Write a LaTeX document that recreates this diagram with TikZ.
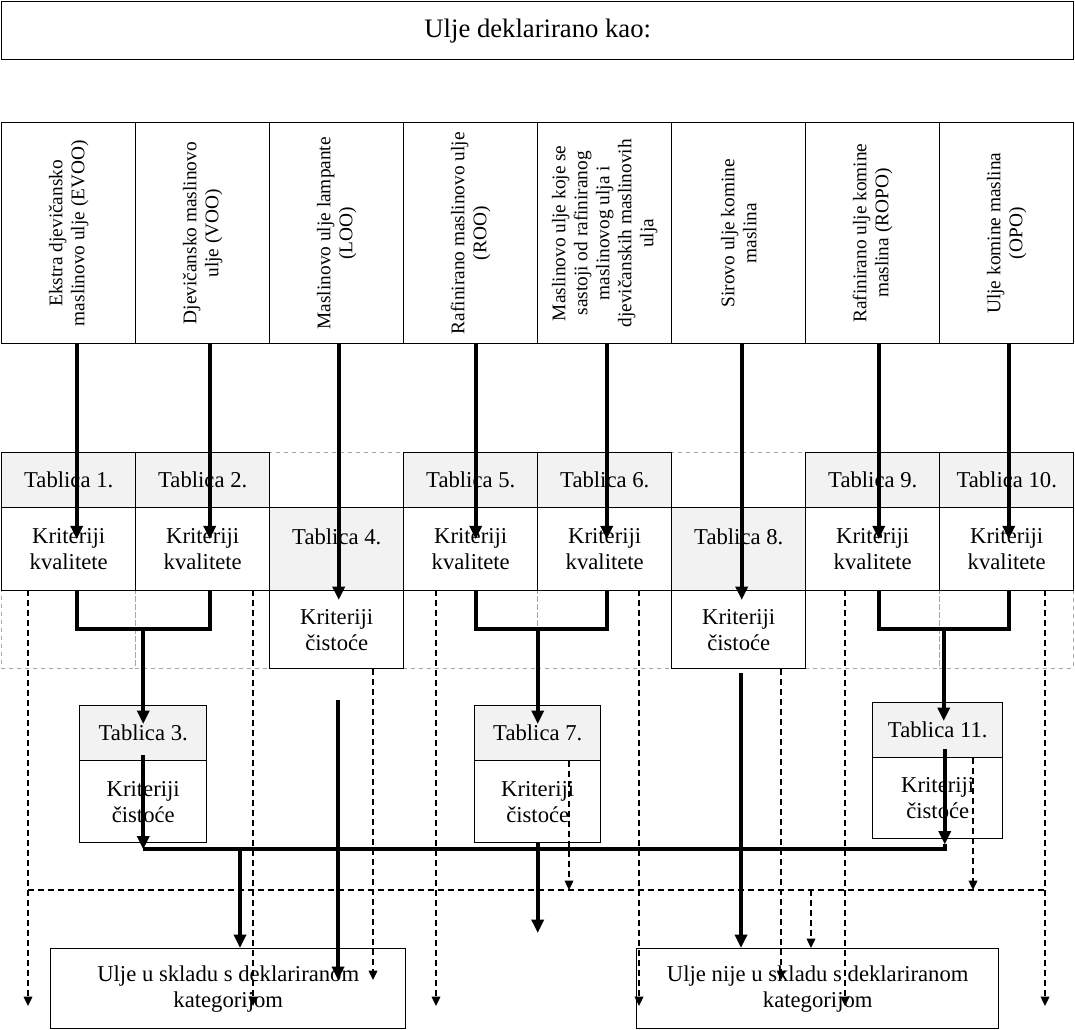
\documentclass[tikz,border=0pt]{standalone}
\usepackage{fontspec}
\setmainfont{Liberation Serif}
\usetikzlibrary{arrows.meta,positioning}
\definecolor{shade}{HTML}{F2F2F2}
\definecolor{rulegray}{HTML}{A6A6A6}

\begin{document}
\begin{tikzpicture}[
  x=0.75pt,y=-0.75pt,
  cell/.style={draw,line width=1.1pt,anchor=north west,inner sep=0pt,align=center,minimum width=100.5pt,font=\fontsize{17}{19.5}\selectfont},
  head/.style={cell,fill=shade,minimum height=41.25pt},
  blank/.style={cell,draw=rulegray,dashed,line width=0.6pt},
  vtext/.style={rotate=90,align=center,inner sep=0pt,font=\fontsize{14.5}{16.5}\selectfont},
  flow/.style={-{Triangle[length=10pt,width=9pt]},line width=3pt},
  bus/.style={line width=3pt},
  pass/.style={-{Triangle[length=7pt,width=6.5pt]},line width=1pt,dash pattern=on 4.5pt off 3pt}
]
\useasboundingbox (0,0) rectangle (1075,1030);

% heading
\node[cell,minimum width=804pt,minimum height=43.5pt,font=\fontsize{20}{24}\selectfont] (decl) at (1,1) {Ulje deklarirano kao:};

% oil categories
\foreach \i/\txt in {1/{Ekstra djevičansko\\maslinovo ulje (EVOO)},
                     2/{Djevičansko maslinovo\\ulje (VOO)},
                     3/{Maslinovo ulje lampante\\(LOO)},
                     4/{Rafinirano maslinovo ulje\\(ROO)},
                     5/{Maslinovo ulje koje se\\sastoji od rafiniranog\\maslinovog ulja i\\djevičanskih maslinovih\\ulja},
                     6/{Sirovo ulje komine\\maslina},
                     7/{Rafinirano ulje komine\\maslina (ROPO)},
                     8/{Ulje komine maslina\\(OPO)}}{
  \node[cell,minimum height=165.75pt] (col\i) at ({1+134*(\i-1)},122) {};
  \node[vtext] (cap\i) at (col\i) {\txt};
}

% table grid: empty cells first
\node[blank,minimum height=41.25pt] (tA3) at (269,452) {};
\node[blank,minimum height=41.25pt] (tA6) at (671,452) {};
\foreach \i in {1,2,4,5,7,8}
  \node[blank,minimum height=58.5pt] (tC\i) at ({1+134*(\i-1)},590) {};

\foreach \i/\n in {1/1,2/2,4/5,5/6,7/9,8/10}{
  \node[head] (tA\i) at ({1+134*(\i-1)},452) {Tablica \n.};
  \node[cell,minimum height=62.25pt] (tB\i) at ({1+134*(\i-1)},507) {Kriteriji\\kvalitete};
}
\node[cell,fill=shade,minimum height=62.25pt] (tB3) at (269,507) {Tablica 4.\\~};
\node[cell,fill=shade,minimum height=62.25pt] (tB6) at (671,507) {Tablica 8.\\~};
\node[cell,minimum height=58.5pt] (tC3) at (269,590) {Kriteriji\\čistoće};
\node[cell,minimum height=58.5pt] (tC6) at (671,590) {Kriteriji\\čistoće};

% purity tables
\node[head,minimum width=95.25pt] (t3h) at (79,705) {Tablica 3.};
\node[cell,minimum width=95.25pt,minimum height=61.5pt] (t3b) at (79,760) {Kriteriji\\čistoće};
\node[head,minimum width=94.5pt] (t7h) at (474,705) {Tablica 7.};
\node[cell,minimum width=94.5pt,minimum height=61.5pt] (t7b) at (474,760) {Kriteriji\\čistoće};
\node[head,minimum width=97.5pt] (t11h) at (872,702) {Tablica 11.};
\node[cell,minimum width=97.5pt,minimum height=60.75pt] (t11b) at (872,757) {Kriteriji\\čistoće};

% outcomes
\node[cell,minimum width=266.25pt,minimum height=60pt] (ok) at (50,948) {Ulje u skladu s deklariranom\\kategorijom};
\node[cell,minimum width=271.5pt,minimum height=60pt] (nok) at (636,948) {Ulje nije u skladu s deklariranom\\kategorijom};

% lanes and levels
\foreach \n/\x in {l1/28,l2/253,l3/373,l4/436,l5/569,l6/639,l7/781,l8/845,l9/811,l10/973,l11/1045,l12/240,l13/338,l14/741}
  \coordinate (\n) at (\x,0);
\coordinate (rail) at (0,890);
\coordinate (low) at (0,980);
\coordinate (sill) at (0,933);
\coordinate (bottomtip) at (0,1006);

% categories to criteria
\foreach \i/\dx in {1/6,2/5.25,4/3.75,5/1.5,7/4.5,8/1.5}
  \draw[flow] ([xshift=\dx pt]col\i.south) -- ([xshift=\dx pt,yshift=7.5pt]tB\i.center);
\draw[flow] ([xshift=1.5pt]col3.south) -- ([xshift=1.5pt,yshift=-7.5pt]tC3.north);
\draw[flow] ([xshift=2.25pt]col6.south) -- ([xshift=2.25pt,yshift=-7.5pt]tC6.north);

% quality passed -> purity tables
\draw[bus] ([xshift=6pt]tB1.south) -- ++(0,38) coordinate (j1) -| ([xshift=5.25pt]tB2.south);
\draw[flow] (j1 -| t3h.center) -- ([yshift=7pt]t3h.center);
\draw[bus] ([xshift=3.75pt]tB4.south) -- ++(0,38) coordinate (j2) -| ([xshift=1.5pt]tB5.south);
\draw[flow] (j2 -| t7h.center) -- ([yshift=7pt]t7h.center);
\draw[bus] ([xshift=4.5pt]tB7.south) -- ++(0,38) coordinate (j3) -| ([xshift=1.5pt]tB8.south);
\draw[flow] (j3) ++(65,0) -- ([xshift=4.5pt,yshift=7pt]t11h.center);

% purity passed
\draw[flow] ([yshift=4.5pt]t3h.south) -- ([yshift=-4.5pt]t3b.south) coordinate (busL);
\draw[flow] ([xshift=5.25pt,yshift=6.75pt]t11h.south) -- ([xshift=5.25pt,yshift=-3.75pt]t11b.south) coordinate (busR);
\draw[bus] (busL) -| (busR);
\draw[flow] (l12 |- busL) -- (l12 |- ok.north);
\draw[flow] (t7b.south) -- (t7b.south |- sill);
\draw[flow,shorten <=23pt] (l13 |- tC3.south) -- (l13 |- low);
\draw[flow,shorten <=3pt] (l14 |- tC6.south) -- (l14 |- nok.north);

% failed criteria
\foreach \n/\c in {l1/1,l2/2,l4/4,l6/5,l8/7,l11/8}
  \draw[pass] (\n |- tC\c.north) -- (\n |- bottomtip);
\draw[pass] (l3 |- tC3.south) -- (l3 |- low);
\draw[pass] (l7 |- tC6.south) -- (l7 |- low);
\draw[pass] (l5 |- t7h.south) -- (l5 |- rail);
\draw[pass] (l10 |- t11h.south) -- (l10 |- rail);
\draw[pass,-] (l1 |- rail) -- (l11 |- rail);
\draw[pass] (l9 |- rail) -- (l9 |- nok.north);
\end{tikzpicture}
\end{document}
